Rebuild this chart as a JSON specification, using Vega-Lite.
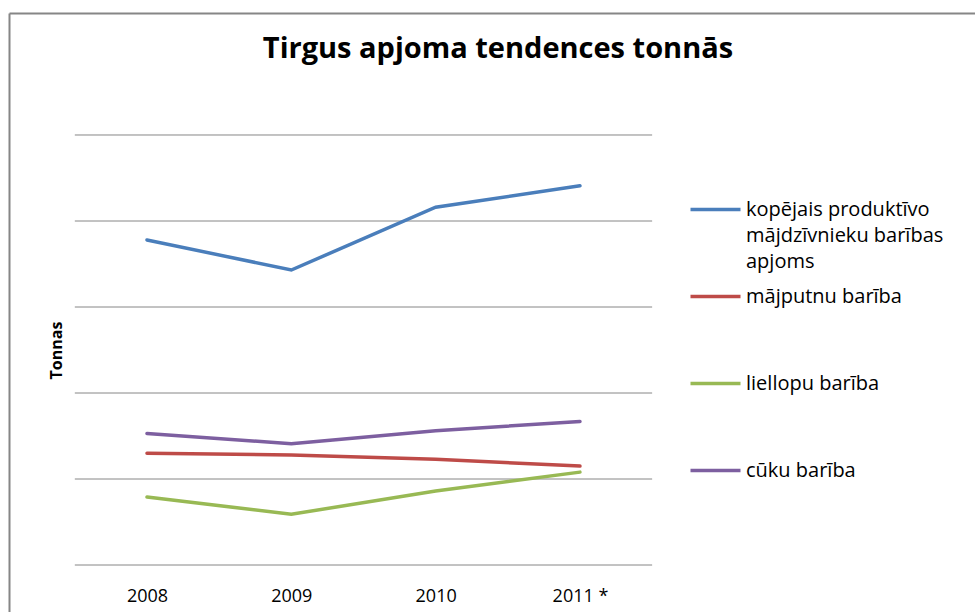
{
  "$schema": "https://vega.github.io/schema/vega-lite/v6.json",
  "width": 966,
  "height": 599,
  "autosize": {"type": "none"},
  "padding": {"left": 9, "top": 13, "right": 0, "bottom": 0},
  "background": "white",
  "config": {
    "view": {"stroke": null},
    "font": "Open Sans",
    "style": {"guide-label": {"lineHeight": 26}}
  },
  "title": {
    "text": "Tirgus apjoma tendences tonnās",
    "fontSize": 29,
    "fontWeight": "bold",
    "color": "#000000",
    "anchor": "middle",
    "baseline": "alphabetic",
    "offset": -74,
    "dx": 6
  },
  "encoding": {
    "y": {
      "field": "v",
      "type": "quantitative",
      "scale": {"domain": [-0.5465, 6.4186], "nice": false, "zero": false},
      "axis": {
        "orient": "left",
        "domain": true,
        "domainColor": "#868686",
        "domainWidth": 2,
        "ticks": false,
        "labels": false,
        "grid": false,
        "title": "Tonnas",
        "titleFontSize": 16,
        "titleFontWeight": "bold",
        "titleColor": "#000000",
        "titleAngle": -90,
        "titleAlign": "center",
        "titleBaseline": "middle",
        "titleX": 47,
        "titleY": 337
      }
    }
  },
  "layer": [
    {
      "data": {"values": [{"v": 0}, {"v": 1}, {"v": 2}, {"v": 3}, {"v": 4}, {"v": 5}]},
      "mark": {"type": "rule", "color": "#868686", "strokeWidth": 1},
      "encoding": {
        "x": {
          "datum": 2007.5,
          "type": "quantitative",
          "scale": {"domain": [2007.044, 2013.737], "nice": false, "zero": false},
          "axis": {
            "orient": "top",
            "domain": true,
            "domainColor": "#868686",
            "domainWidth": 2,
            "ticks": false,
            "labels": false,
            "grid": false,
            "title": null
          }
        },
        "x2": {"datum": 2011.5}
      }
    },
    {
      "data": {
        "values": [
          {"series": "kopējais produktīvo mājdzīvnieku barības apjoms", "year": 2008, "v": 3.78},
          {"series": "kopējais produktīvo mājdzīvnieku barības apjoms", "year": 2009, "v": 3.43},
          {"series": "kopējais produktīvo mājdzīvnieku barības apjoms", "year": 2010, "v": 4.16},
          {"series": "kopējais produktīvo mājdzīvnieku barības apjoms", "year": 2011, "v": 4.41},
          {"series": "mājputnu barība", "year": 2008, "v": 1.30},
          {"series": "mājputnu barība", "year": 2009, "v": 1.28},
          {"series": "mājputnu barība", "year": 2010, "v": 1.23},
          {"series": "mājputnu barība", "year": 2011, "v": 1.15},
          {"series": "liellopu barība", "year": 2008, "v": 0.79},
          {"series": "liellopu barība", "year": 2009, "v": 0.59},
          {"series": "liellopu barība", "year": 2010, "v": 0.86},
          {"series": "liellopu barība", "year": 2011, "v": 1.08},
          {"series": "cūku barība", "year": 2008, "v": 1.53},
          {"series": "cūku barība", "year": 2009, "v": 1.41},
          {"series": "cūku barība", "year": 2010, "v": 1.56},
          {"series": "cūku barība", "year": 2011, "v": 1.67}
        ]
      },
      "mark": {"type": "line", "strokeWidth": 3.5, "strokeCap": "round"},
      "encoding": {
        "x": {
          "field": "year",
          "type": "quantitative",
          "scale": {"domain": [2007.044, 2013.737], "nice": false, "zero": false},
          "axis": {
            "orient": "bottom",
            "offset": -25,
            "domain": false,
            "ticks": false,
            "tickSize": 0,
            "grid": false,
            "labelPadding": 0,
            "values": [2008, 2009, 2010, 2011],
            "labelExpr": "datum.value == 2011 ? '2011 *' : toString(datum.value)",
            "labelFontSize": 18,
            "labelColor": "#000000",
            "labelFlush": false,
            "title": null
          }
        },
        "color": {
          "field": "series",
          "type": "nominal",
          "scale": {
            "domain": ["kopējais produktīvo mājdzīvnieku barības apjoms", "mājputnu barība", "liellopu barība", "cūku barība"],
            "range": ["#4A7EBB", "#BE4B48", "#98B954", "#7D5FA0"]
          },
          "legend": {
            "orient": "none",
            "legendX": 692,
            "legendY": 172,
            "title": null,
            "padding": 0,
            "gridAlign": "all",
            "rowPadding": 0,
            "symbolType": "M-2,0.8L2,0.8",
            "symbolSize": 625,
            "symbolStrokeWidth": 3.5,
            "labelFontSize": 20,
            "labelColor": "#000000",
            "labelBaseline": "top",
            "labelOffset": 16,
            "labelLimit": 400,
            "labelExpr": "datum.label == 'kopējais produktīvo mājdzīvnieku barības apjoms' ? ['kopējais produktīvo', 'mājdzīvnieku barības', 'apjoms'] : datum.label"
          }
        }
      }
    }
  ],
  "resolve": {"axis": {"x": "independent"}}
}
